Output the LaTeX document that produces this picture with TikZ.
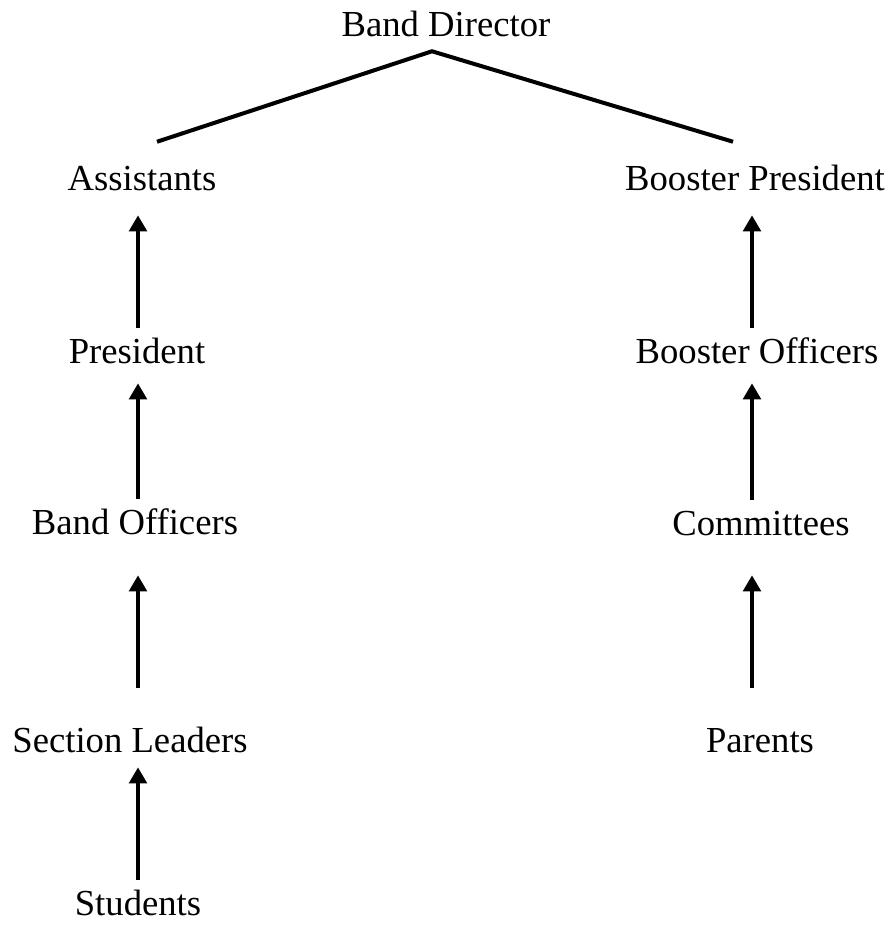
\documentclass[tikz,border=0pt]{standalone}
\usepackage{fontspec}
\setmainfont{Liberation Serif}
\usepackage{tikz}
\usetikzlibrary{arrows.meta}

\begin{document}
\begin{tikzpicture}[x=0.75pt, y=-0.75pt,
    >={Triangle[length=12pt,width=13pt]},
    post/.style={font=\fontsize{27.5}{33}\selectfont, inner sep=0pt,
        anchor=base, text height=26.25pt, text depth=15pt},
    up/.style={->, line width=3pt},
    link/.style={line width=3pt}]
    \useasboundingbox (0,0) rectangle (892,926);
    \coordinate (lcol) at (138,0);
    \coordinate (rcol) at (752,0);
    \node[post] (a) at (446,36) {Band Director};
    % left column
    \node[post] (b) at ([yshift=-115.5pt, xshift=-228pt]a.base) {Assistants};
    \node[post] (c) at ([yshift=-129.75pt, xshift=-3.75pt]b.base) {President};
    \node[post] (d) at ([yshift=-128.25pt, xshift=-1.5pt]c.base) {Band Officers};
    \node[post] (e) at ([yshift=-163.5pt, xshift=-3.75pt]d.base) {Section Leaders};
    \node[post] (f) at ([yshift=-122.25pt, xshift=6pt]e.base) {Students};
    % right column
    \node[post] (b1) at ([yshift=-115.5pt, xshift=231.75pt]a.base) {Booster President};
    \node[post] (c1) at ([yshift=-129.75pt, xshift=1.5pt]b1.base) {Booster Officers};
    \node[post] (d1) at ([yshift=-129pt, xshift=3pt]c1.base) {Committees};
    \node[post] (e1) at ([yshift=-162.75pt, xshift=-0.75pt]d1.base) {Parents};
    \draw[link] ([xshift=11.25pt, yshift=9.75pt]b.north)
        -- ([xshift=-10.5pt, yshift=3.75pt]a.south)
        -- ([xshift=-16.5pt, yshift=9.75pt]b1.north);
    \draw[up, shorten >=3.75pt] (c.north -| lcol) -- (b.south -| lcol);
    \draw[up] (d.north -| lcol) -- (c.south -| lcol);
    \draw[up, shorten <=21.75pt, shorten >=15.75pt] (e.north -| lcol) -- (d.south -| lcol);
    \draw[up, shorten >=-3.75pt] (f.north -| lcol) -- (e.south -| lcol);
    \draw[up, shorten >=3.75pt] (c1.north -| rcol) -- (b1.south -| rcol);
    \draw[up] (d1.north -| rcol) -- (c1.south -| rcol);
    \draw[up, shorten <=21.75pt, shorten >=15pt] (e1.north -| rcol) -- (d1.south -| rcol);
\end{tikzpicture}
\end{document}
